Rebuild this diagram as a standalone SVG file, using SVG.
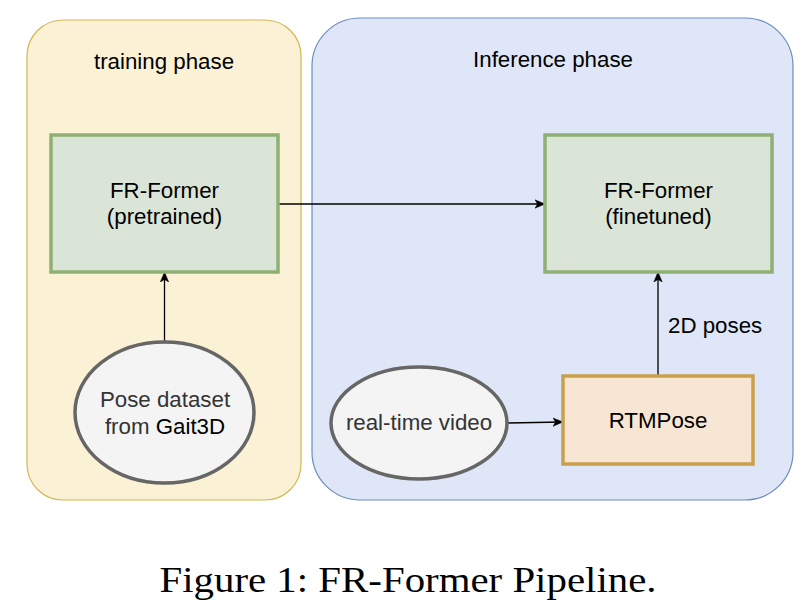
<svg xmlns="http://www.w3.org/2000/svg" width="812" height="614" viewBox="0 0 812 614">
<defs>
<style>
.lbl{font-family:"Liberation Sans",Arial,Helvetica,sans-serif;font-size:22.3px;fill:#000;text-anchor:middle}
.gray{fill:#333}
.cont-t{fill:#fbf1d5;stroke:#d6b656;stroke-width:1.2}
.cont-i{fill:#dfe6f7;stroke:#6c8ebf;stroke-width:1.2}
.green{fill:#dbe5d7;stroke:#8fb075;stroke-width:3.5}
.orange{fill:#f7e6d3;stroke:#c9a14b;stroke-width:3.5}
.ell{fill:#f4f4f4;stroke:#666;stroke-width:3.5}
.edge{stroke:#000;stroke-width:1.3;fill:none;marker-end:url(#arr)}
.cap{font-family:"Liberation Serif","Times New Roman",serif;font-size:35px;fill:#000;text-anchor:middle}
</style>
<marker id="arr" viewBox="0 0 10 10" refX="9" refY="5" markerWidth="10" markerHeight="10" markerUnits="userSpaceOnUse" orient="auto">
<path d="M0,0.8 L10,5 L0,9.2 L2.5,5 Z" fill="#000" stroke="#000" stroke-width="0.5"/>
</marker>
</defs>
<rect width="812" height="614" fill="#fff"/>
<g id="training-phase">
<rect class="cont-t" x="27" y="20" width="274" height="480" rx="36" ry="36"/>
<text class="lbl" x="164" y="69">training phase</text>
</g>
<g id="inference-phase">
<rect class="cont-i" x="312" y="18" width="481" height="482" rx="48" ry="48"/>
<text class="lbl" x="553" y="67">Inference phase</text>
</g>
<g id="connectors">
<line class="edge" x1="278" y1="204" x2="544" y2="204"/>
<line class="edge" x1="164.5" y1="342" x2="164.5" y2="273"/>
<line class="edge" x1="507" y1="423" x2="562" y2="422"/>
<line class="edge" x1="658" y1="376" x2="658" y2="273"/>
<text class="lbl" x="668" y="333" style="text-anchor:start">2D poses</text>
</g>
<g id="fr-former-pretrained">
<rect class="green" x="51" y="135" width="227" height="137"/>
<text class="lbl" x="164.5" y="198">FR-Former</text>
<text class="lbl" x="164.5" y="224">(pretrained)</text>
</g>
<g id="fr-former-finetuned">
<rect class="green" x="545" y="135" width="227" height="137"/>
<text class="lbl" x="658.5" y="198">FR-Former</text>
<text class="lbl" x="658.5" y="224">(finetuned)</text>
</g>
<g id="pose-dataset">
<ellipse class="ell" cx="164.5" cy="412.5" rx="89.5" ry="70.5"/>
<text class="lbl gray" x="165" y="407">Pose dataset</text>
<text class="lbl gray" x="165" y="434">from <tspan fill="#000">Gait3D</tspan></text>
</g>
<g id="real-time-video">
<ellipse class="ell" cx="419" cy="423" rx="88" ry="56"/>
<text class="lbl gray" x="419" y="430">real-time video</text>
</g>
<g id="rtmpose">
<rect class="orange" x="563" y="376" width="190" height="88"/>
<text class="lbl" x="658" y="428">RTMPose</text>
</g>
<text class="cap" x="408" y="592" textLength="497" lengthAdjust="spacingAndGlyphs">Figure 1: FR-Former Pipeline.</text>
</svg>
